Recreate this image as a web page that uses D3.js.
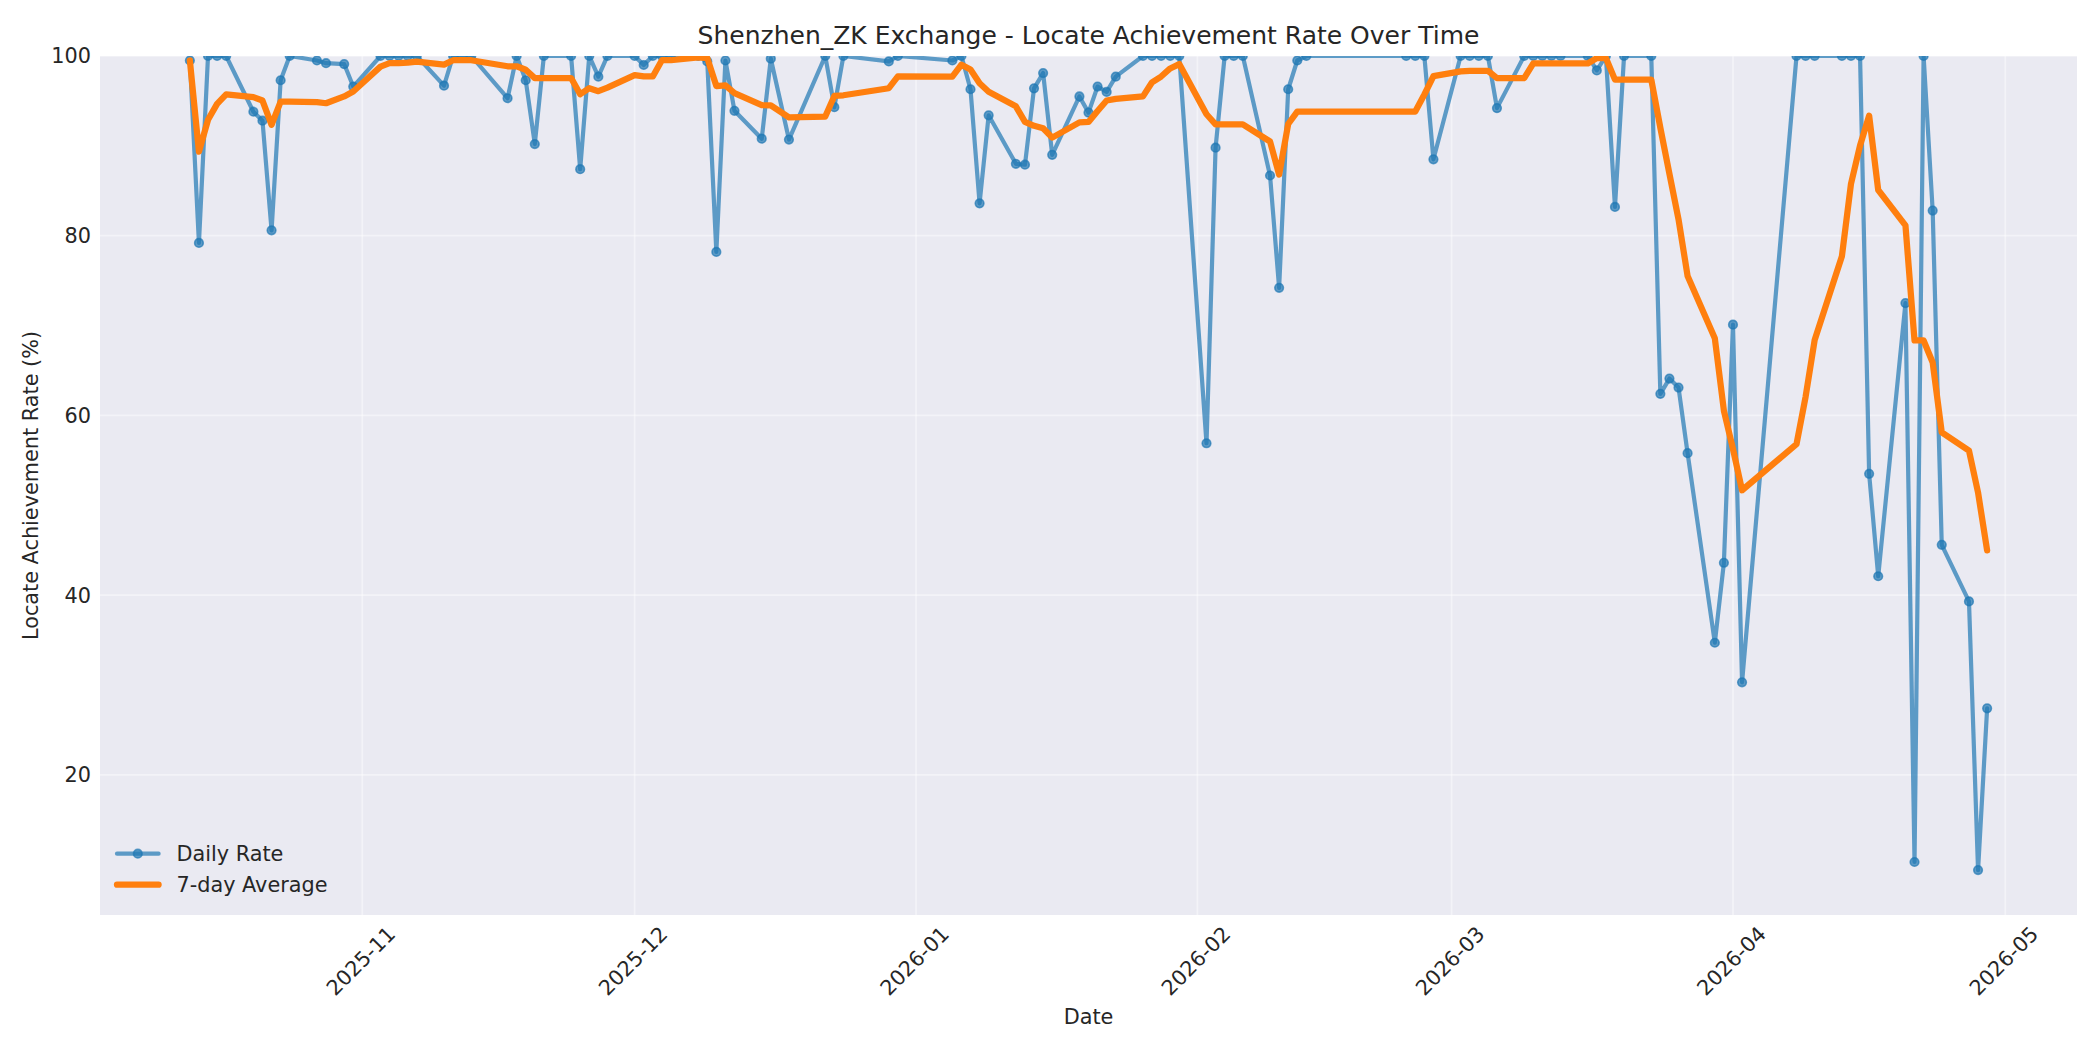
<!DOCTYPE html>
<html>
<head>
<meta charset="utf-8">
<script src="https://cdn.jsdelivr.net/npm/d3@7"></script>
<style>
  html, body { margin: 0; padding: 0; background: #ffffff; }
  svg { display: block; font-family: "DejaVu Sans", sans-serif; }
</style>
</head>
<body>
<svg id="chart" width="2100" height="1050"></svg>
<script>
// ---------------- DATA ----------------
const chartTitle = "Shenzhen_ZK Exchange - Locate Achievement Rate Over Time";
const xLabel = "Date";
const yLabel = "Locate Achievement Rate (%)";
const seriesNames = ["Daily Rate", "7-day Average"];

const dates = [
  "2025-10-13","2025-10-14","2025-10-15","2025-10-16","2025-10-17",
  "2025-10-20","2025-10-21","2025-10-22","2025-10-23","2025-10-24",
  "2025-10-27","2025-10-28","2025-10-30","2025-10-31",
  "2025-11-03","2025-11-04","2025-11-05","2025-11-06","2025-11-07",
  "2025-11-10","2025-11-11","2025-11-12","2025-11-13",
  "2025-11-17","2025-11-18","2025-11-19","2025-11-20","2025-11-21",
  "2025-11-24","2025-11-25","2025-11-26","2025-11-27","2025-11-28",
  "2025-12-01","2025-12-02","2025-12-03","2025-12-04","2025-12-05",
  "2025-12-08","2025-12-09","2025-12-10","2025-12-11","2025-12-12",
  "2025-12-15","2025-12-16","2025-12-18",
  "2025-12-22","2025-12-23","2025-12-24",
  "2025-12-29","2025-12-30",
  "2026-01-05","2026-01-06","2026-01-07","2026-01-08","2026-01-09",
  "2026-01-12","2026-01-13","2026-01-14","2026-01-15","2026-01-16",
  "2026-01-19","2026-01-20","2026-01-21","2026-01-22","2026-01-23",
  "2026-01-26","2026-01-27","2026-01-28","2026-01-29","2026-01-30",
  "2026-02-02","2026-02-03","2026-02-04","2026-02-05","2026-02-06",
  "2026-02-09","2026-02-10","2026-02-11","2026-02-12","2026-02-13",
  "2026-02-24","2026-02-25","2026-02-26","2026-02-27",
  "2026-03-02","2026-03-03","2026-03-04","2026-03-05","2026-03-06",
  "2026-03-09","2026-03-10","2026-03-11","2026-03-12","2026-03-13",
  "2026-03-16","2026-03-17","2026-03-18","2026-03-19","2026-03-20",
  "2026-03-23","2026-03-24","2026-03-25","2026-03-26","2026-03-27",
  "2026-03-30","2026-03-31","2026-04-01","2026-04-02",
  "2026-04-08","2026-04-09","2026-04-10",
  "2026-04-13","2026-04-14","2026-04-15","2026-04-16","2026-04-17",
  "2026-04-20","2026-04-21","2026-04-22","2026-04-23","2026-04-24",
  "2026-04-27","2026-04-28","2026-04-29"
];

const dailyRate = [
  99.5, 79.2, 100, 100, 100,
  93.8, 92.8, 80.6, 97.3, 100,
  99.5, 99.2, 99.1, 96.6,
  100, 100, 100, 100, 100,
  96.7, 100, 100, 100,
  95.3, 100, 97.3, 90.2, 100,
  100, 87.4, 100, 97.7, 100,
  100, 99.0, 100, 100, 100,
  100, 99.4, 78.2, 99.5, 93.9,
  90.8, 99.7, 90.7,
  100, 94.3, 100,
  99.4, 100,
  99.5, 100, 96.3, 83.6, 93.4,
  88.0, 87.9, 96.4, 98.1, 89.0,
  95.5, 93.7, 96.6, 96.0, 97.7,
  100, 100, 100, 100, 100,
  56.9, 89.8, 100, 100, 100,
  86.7, 74.2, 96.3, 99.5, 100,
  100, 100, 100, 88.5,
  100, 100, 100, 100, 94.2,
  100, 100, 100, 100, 100,
  100, 98.4, 100, 83.2, 100,
  100, 62.4, 64.1, 63.1, 55.8,
  34.7, 43.6, 70.1, 30.3,
  100, 100, 100,
  100, 100, 100, 53.5, 42.1,
  72.5, 10.3, 100, 82.8, 45.6,
  39.3, 9.4, 27.4
];

const rollingWindow = 7;               // observations in the moving average
const xTickLabels = ["2025-11","2025-12","2026-01","2026-02","2026-03","2026-04","2026-05"];
const yTicks = [20, 40, 60, 80, 100];
const yDomain = [4.4, 100];

// ---------------- LAYOUT / STYLE ----------------
const W = 2100, H = 1050;
const plot = { left: 100, right: 2077, top: 56, bottom: 915 };
const colors = { bg: "#EAEAF2", text: "#262626", daily: "#1f77b4", avg: "#ff7f0e" };
const fs = 20.8;        // 10pt at 150dpi
const titleFs = 25;     // 12pt at 150dpi
const markerR = 4.3;

const parse = d3.timeParse("%Y-%m-%d");
const parseMonth = d3.timeParse("%Y-%m");
const pts = dates.map((d, i) => ({ date: parse(d), value: dailyRate[i] }));

// 7-observation moving average of the daily series (min 1 observation)
const avgPts = pts.map((p, i) => {
  const win = pts.slice(Math.max(0, i - rollingWindow + 1), i + 1);
  return { date: p.date, value: d3.mean(win, w => w.value) };
});

// x domain with 5% margins like matplotlib autoscale
const [d0, d1] = d3.extent(pts, p => p.date);
const span = d1 - d0;
const x = d3.scaleTime()
  .domain([new Date(+d0 - 0.05 * span), new Date(+d1 + 0.05 * span)])
  .range([plot.left, plot.right]);
const y = d3.scaleLinear().domain(yDomain).range([plot.bottom, plot.top]);

const svg = d3.select("#chart");

svg.append("defs").append("clipPath").attr("id", "plotClip")
  .append("rect")
  .attr("x", plot.left).attr("y", plot.top)
  .attr("width", plot.right - plot.left).attr("height", plot.bottom - plot.top);

// axes background
svg.append("rect")
  .attr("x", plot.left).attr("y", plot.top)
  .attr("width", plot.right - plot.left).attr("height", plot.bottom - plot.top)
  .attr("fill", colors.bg);

const xTickDates = xTickLabels.map(parseMonth);

// grid
const grid = svg.append("g").attr("stroke", "#ffffff").attr("stroke-opacity", 0.45).attr("stroke-width", 1.7);
grid.selectAll("line.h").data(yTicks).join("line")
  .attr("x1", plot.left).attr("x2", plot.right)
  .attr("y1", d => y(d)).attr("y2", d => y(d));
grid.selectAll("line.v").data(xTickDates).join("line")
  .attr("x1", d => x(d)).attr("x2", d => x(d))
  .attr("y1", plot.top).attr("y2", plot.bottom);

// series
const lineGen = d3.line().x(d => x(d.date)).y(d => y(d.value));
const marks = svg.append("g").attr("clip-path", "url(#plotClip)");

marks.append("path").datum(pts)
  .attr("d", lineGen)
  .attr("fill", "none")
  .attr("stroke", colors.daily)
  .attr("stroke-opacity", 0.7)
  .attr("stroke-width", 4.2)
  .attr("stroke-linejoin", "round")
  .attr("stroke-linecap", "round");

marks.append("g").selectAll("circle").data(pts).join("circle")
  .attr("cx", d => x(d.date)).attr("cy", d => y(d.value))
  .attr("r", markerR)
  .attr("fill", colors.daily).attr("fill-opacity", 0.7)
  .attr("stroke", colors.daily).attr("stroke-opacity", 0.7).attr("stroke-width", 1.6);

marks.append("path").datum(avgPts)
  .attr("d", lineGen)
  .attr("fill", "none")
  .attr("stroke", colors.avg)
  .attr("stroke-width", 6.25)
  .attr("stroke-linejoin", "round")
  .attr("stroke-linecap", "round");

// y tick labels
svg.append("g").selectAll("text").data(yTicks).join("text")
  .attr("x", plot.left - 9)
  .attr("y", d => y(d) + 7.4)
  .attr("text-anchor", "end")
  .attr("font-size", fs)
  .attr("fill", colors.text)
  .text(d => d);

// x tick labels (rotated 45deg, bbox centred under tick)
const tickFmt = d3.timeFormat("%Y-%m");
const xt = svg.append("g").selectAll("g").data(xTickDates).join("g")
  .attr("transform", d => `translate(${x(d) - 1.5},${961}) rotate(-45)`);
xt.append("text")
  .attr("text-anchor", "middle")
  .attr("y", 7.2)
  .attr("font-size", fs)
  .attr("fill", colors.text)
  .text(d => tickFmt(d));

// axis labels
svg.append("text")
  .attr("x", (plot.left + plot.right) / 2).attr("y", 1024)
  .attr("text-anchor", "middle").attr("font-size", fs).attr("fill", colors.text)
  .text(xLabel);

svg.append("text")
  .attr("transform", `translate(38,${(plot.top + plot.bottom) / 2}) rotate(-90)`)
  .attr("text-anchor", "middle").attr("font-size", fs).attr("fill", colors.text)
  .text(yLabel);

// title
svg.append("text")
  .attr("x", (plot.left + plot.right) / 2).attr("y", 43.5)
  .attr("text-anchor", "middle").attr("font-size", titleFs).attr("fill", colors.text)
  .text(chartTitle);

// legend (lower left, no frame)
const lg = svg.append("g");
const lx0 = 117, lx1 = 158.6, ly0 = 853.7, ly1 = 884.7;
lg.append("line").attr("x1", lx0).attr("x2", lx1).attr("y1", ly0).attr("y2", ly0)
  .attr("stroke", colors.daily).attr("stroke-opacity", 0.7).attr("stroke-width", 4.2)
  .attr("stroke-linecap", "round");
lg.append("circle").attr("cx", (lx0 + lx1) / 2).attr("cy", ly0).attr("r", markerR)
  .attr("fill", colors.daily).attr("fill-opacity", 0.7)
  .attr("stroke", colors.daily).attr("stroke-opacity", 0.7).attr("stroke-width", 1.6);
lg.append("line").attr("x1", lx0).attr("x2", lx1).attr("y1", ly1).attr("y2", ly1)
  .attr("stroke", colors.avg).attr("stroke-width", 6.25).attr("stroke-linecap", "round");
lg.selectAll("text").data(seriesNames).join("text")
  .attr("x", 176.5)
  .attr("y", (d, i) => (i === 0 ? ly0 : ly1) + 7.6)
  .attr("font-size", fs).attr("fill", colors.text)
  .text(d => d);
</script>
</body>
</html>
